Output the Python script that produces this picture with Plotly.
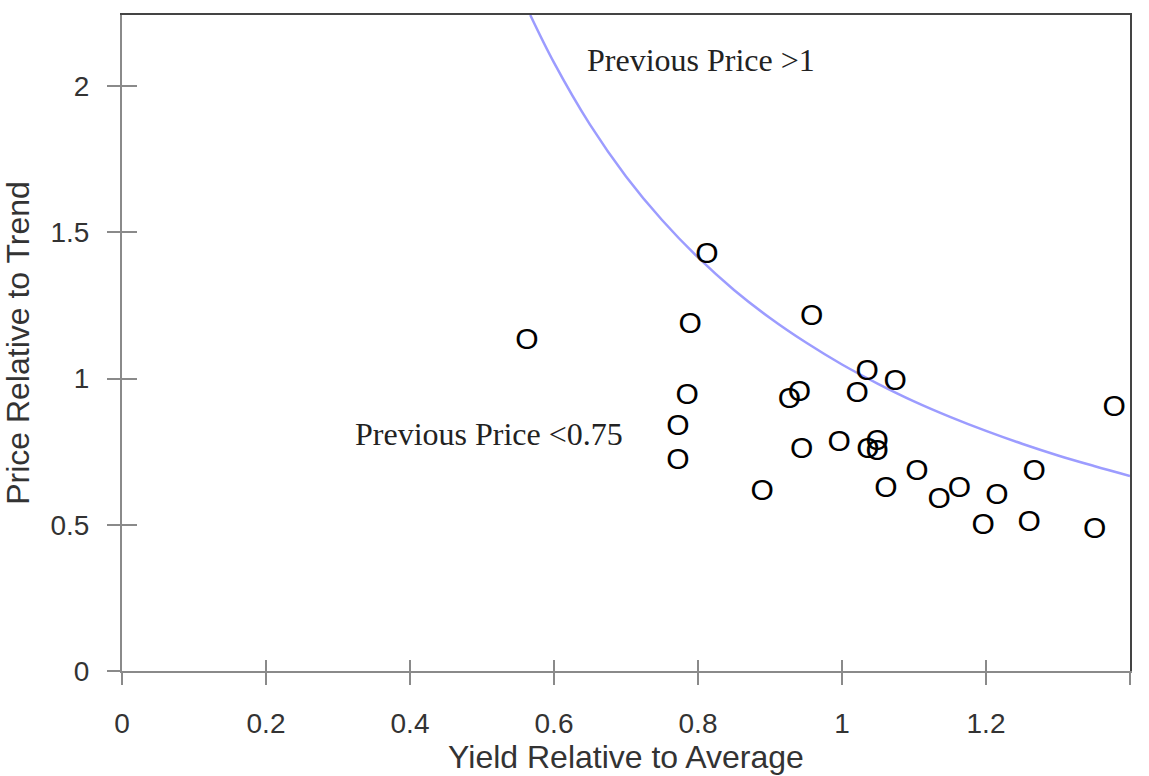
import plotly.graph_objects as go

# Observed points (yield relative to average, price relative to trend)
yield_rel = [0.5625, 0.8125, 0.789, 0.958, 0.785, 0.772, 0.772, 0.927, 0.941,
             1.035, 1.021, 1.074, 0.944, 0.996, 1.036, 1.049, 1.049, 0.889,
             1.061, 1.104, 1.135, 1.163, 1.215, 1.196, 1.267, 1.260, 1.351, 1.378]
price_rel = [1.125, 1.422, 1.183, 1.207, 0.940, 0.834, 0.715, 0.926, 0.950,
             1.022, 0.947, 0.988, 0.753, 0.779, 0.753, 0.746, 0.783, 0.612,
             0.619, 0.680, 0.584, 0.622, 0.598, 0.493, 0.680, 0.506, 0.480, 0.899]

# Boundary curve
curve_x = [0.567, 0.6, 0.65, 0.7, 0.75, 0.8, 0.85, 0.9, 0.95, 1.0, 1.05,
           1.1, 1.15, 1.2, 1.25, 1.3, 1.35, 1.4]
curve_y = [2.243, 2.08, 1.868, 1.691, 1.542, 1.414, 1.303, 1.207, 1.123, 1.048,
           0.982, 0.922, 0.869, 0.821, 0.777, 0.737, 0.701, 0.667]

x_ticks = [0, 0.2, 0.4, 0.6, 0.8, 1, 1.2, 1.4]
x_tick_text = ["0", "0.2", "0.4", "0.6", "0.8", "1", "1.2", "1.4"]
y_ticks = [0, 0.5, 1, 1.5, 2]
y_tick_text = ["0", "0.5", "1", "1.5", "2"]

X_RANGE = [0, 1.4]
Y_RANGE = [0, 2.243]

fig = go.Figure()
fig.add_trace(go.Scatter(x=curve_x, y=curve_y, mode="lines",
                         line=dict(color="#9c9cff", width=2.5, shape="spline"),
                         hoverinfo="skip", showlegend=False))
fig.add_trace(go.Scatter(x=yield_rel, y=price_rel, mode="text", text=["O"] * len(yield_rel),
                         textposition="middle center",
                         textfont=dict(family="Liberation Sans, Arial", size=30, color="#000000"),
                         showlegend=False))

fig.add_annotation(x=0.643, y=2.09, text="Previous Price >1", showarrow=False,
                   xanchor="left", yanchor="middle",
                   font=dict(family="Liberation Serif, Times New Roman", size=32, color="#222222"))
fig.add_annotation(x=0.699, y=0.81, text="Previous Price <0.75", showarrow=False,
                   xanchor="right", yanchor="middle",
                   font=dict(family="Liberation Serif, Times New Roman", size=32, color="#222222"))

tick_font = dict(family="Liberation Sans, Arial", size=28, color="#333333")
title_font = dict(family="Liberation Sans, Arial", size=32, color="#333333")

fig.update_layout(
    width=1149, height=776,
    margin=dict(l=122, r=19, t=15, b=105),
    paper_bgcolor="white", plot_bgcolor="white",
    xaxis=dict(range=X_RANGE, tickvals=x_ticks, ticktext=x_tick_text,
               showgrid=False, zeroline=False, showline=True, linecolor="#8a8a8a", linewidth=2,
               ticks="outside", ticklen=12, tickwidth=1.5, tickcolor="#8a8a8a",
               tickfont=tick_font, ticklabelstandoff=14,
               title=dict(text="Yield Relative to Average", font=title_font, standoff=3)),
    yaxis=dict(range=Y_RANGE, tickvals=y_ticks, ticktext=y_tick_text,
               showgrid=False, zeroline=False, showline=True, linecolor="#8a8a8a", linewidth=2,
               ticks="outside", ticklen=13, tickwidth=1.5, tickcolor="#8a8a8a",
               tickfont=tick_font, ticklabelstandoff=12,
               title=dict(text="Price Relative to Trend", font=title_font, standoff=12)),
    # inside halves of the crossing ticks
    xaxis2=dict(range=X_RANGE, overlaying="x", anchor="y", side="bottom",
                tickvals=x_ticks, showticklabels=False, ticks="inside", ticklen=11,
                tickwidth=1.5, tickcolor="#8a8a8a", showgrid=False, zeroline=False, showline=False),
    yaxis2=dict(range=Y_RANGE, overlaying="y", anchor="x", side="left",
                tickvals=y_ticks, showticklabels=False, ticks="inside", ticklen=15,
                tickwidth=1.5, tickcolor="#8a8a8a", showgrid=False, zeroline=False, showline=False),
    # dark frame on top and right
    xaxis3=dict(range=X_RANGE, overlaying="x", anchor="y", side="top",
                showticklabels=False, ticks="", showgrid=False, zeroline=False,
                showline=True, linecolor="#444444", linewidth=2),
    yaxis3=dict(range=Y_RANGE, overlaying="y", anchor="x", side="right",
                showticklabels=False, ticks="", showgrid=False, zeroline=False,
                showline=True, linecolor="#444444", linewidth=2),
)
# attach invisible traces so overlay axes are drawn
fig.add_trace(go.Scatter(x=[None], y=[None], xaxis="x2", yaxis="y2", showlegend=False, hoverinfo="skip"))
fig.add_trace(go.Scatter(x=[None], y=[None], xaxis="x3", yaxis="y3", showlegend=False, hoverinfo="skip"))

fig.write_html("out.html")
